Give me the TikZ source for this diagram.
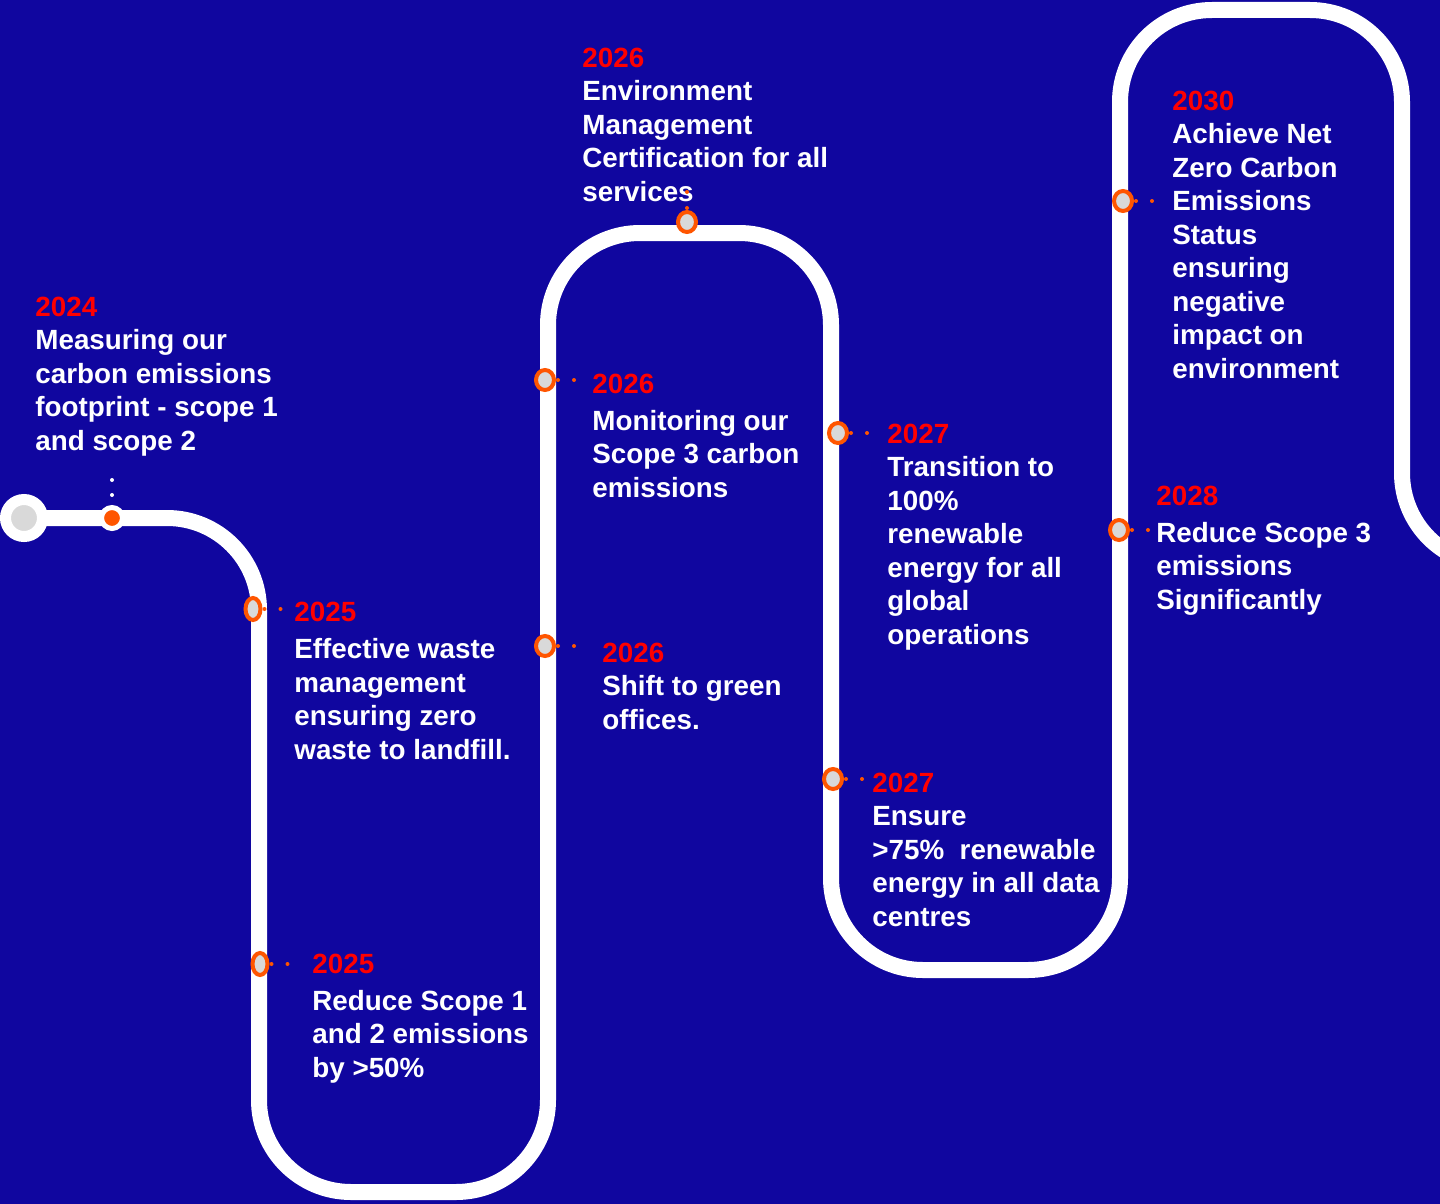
\documentclass[tikz,border=0pt]{standalone}
\usepackage{fontspec}
\setmainfont{Liberation Sans}
\usepackage{tikz}
\usetikzlibrary{positioning, shapes.geometric}
\definecolor{bgblue}{RGB}{16,6,159}
\definecolor{mkorange}{RGB}{255,85,0}
\definecolor{yearred}{RGB}{255,0,0}
\definecolor{mkgray}{RGB}{217,217,217}
\newcommand{\yr}[1]{\textcolor{yearred}{#1}}
\tikzset{
x=0.5pt, y=-0.5pt, % one unit is one pixel of the reference, y grows downwards
road/.style={draw=white, line width=8pt, rounded corners=46pt}, % the white timeline
marker/.style={ellipse, draw=mkorange, fill=mkgray, line width=2pt, minimum width=9pt, minimum height=10pt, inner sep=0pt}, % orange ring on the road
narrowmarker/.style={marker, minimum width=7.5pt, minimum height=11pt},
milestone/.style={anchor=base west, inner sep=0pt, align=left, text=white, font=\bfseries\fontsize{13.9pt}{16.75pt}\selectfont}, % placed at the baseline of its last line
dotlink/.style={draw=mkorange, line width=2pt, line cap=round, dash pattern=on 0pt off 8pt, dash phase=7pt, shorten >=3pt}, % two dots to the text
}
\begin{document}
\begin{tikzpicture}
\fill[bgblue] (0,0) rectangle (1440,1204);
\useasboundingbox (0,0) rectangle (1440,1204);
\clip (0,0) rectangle (1440,1204);

% the road
\draw[road] (24,518) -- (259,518) -- (259,1192) -- (548,1192) -- (548,233) -- (831,233)
  -- (831,970) -- (1120,970) -- (1120,10) -- (1402,10) -- (1402,565) -- (1540,565);

% start and markers
\node[circle, fill=mkgray, draw=white, line width=5.5pt, minimum size=18.5pt, inner sep=0pt] (start) at (24,518) {};
\node[circle, fill=mkorange, draw=white, line width=2.5pt, minimum size=10.5pt, inner sep=0pt] (m24) at (112,518) {};
\node[narrowmarker] (m25a) at (253,609) {};
\node[narrowmarker] (m25b) at (260,964) {};
\node[marker] (m26t) at (687,222) {};
\node[marker] (m26m) at (545,380) {};
\node[marker] (m26s) at (545,646) {};
\node[marker] (m27t) at (838,433) {};
\node[marker] (m27e) at (833,779) {};
\node[marker] (m30) at (1123,201) {};
\node[marker] (m28) at (1119,530) {};

% milestones
\node[milestone] (t24) at (35,450) {\yr{2024}\\Measuring our\\carbon emissions\\footprint - scope 1\\and scope 2};
\node[milestone] (t25a) at (294,759) {\yr{2025}\\[2pt]Effective waste\\management\\ensuring zero\\waste to landfill.};
\node[milestone] (t25b) at (312,1077) {\yr{2025}\\[1.5pt]Reduce Scope 1\\and 2 emissions\\by >50\%};
\node[milestone] (t26t) at (582,201) {\yr{2026}\\Environment\\Management\\Certification for all\\services};
\node[milestone] (t26m) at (592,497) {\yr{2026}\\[1.5pt]Monitoring our\\Scope 3 carbon\\emissions};
\node[milestone] (t26s) at (602,729) {\yr{2026}\\Shift to green\\offices.};
\node[milestone] (t27t) at (887,644) {\yr{2027}\\Transition to\\100\%\\renewable\\energy for all\\global\\operations};
\node[milestone] (t27e) at (872,926) {\yr{2027}\\Ensure\\>75\%\ \ renewable\\energy in all data\\centres};
\node[milestone] (t30) at (1172,378) {\yr{2030}\\Achieve Net\\Zero Carbon\\Emissions\\Status\\ensuring\\negative\\impact on\\environment};
\node[milestone] (t28) at (1156,609) {\yr{2028}\\[1.5pt]Reduce Scope 3\\emissions\\Significantly};

% dotted links
\draw[dotlink, draw=white, dash pattern=on 0pt off 7.5pt, dash phase=2.5pt, shorten >=6pt] (m24.north) -- (m24.north |- t24.south);
\draw[dotlink] (m25a.east) -- (m25a.east -| t25a.west);
\draw[dotlink, shorten >=6pt] (m25b.east) -- (m25b.east -| t25b.west);
\draw[dotlink] (m26m.east) -- (m26m.east -| t26m.west);
\draw[dotlink, shorten >=8pt] (m26s.east) -- (m26s.east -| t26s.west);
\draw[dotlink] (m27t.east) -- (m27t.east -| t27t.west);
\draw[dotlink] (m27e.east) -- (m27e.east -| t27e.west);
\draw[dotlink] (m30.east) -- (m30.east -| t30.west);
\draw[dotlink] (m28.east) -- (m28.east -| t28.west);
\coordinate[above=12pt of m26t.north] (c26t);
\draw[dotlink, shorten >=0pt] (m26t.north) -- (c26t);
\end{tikzpicture}
\end{document}
